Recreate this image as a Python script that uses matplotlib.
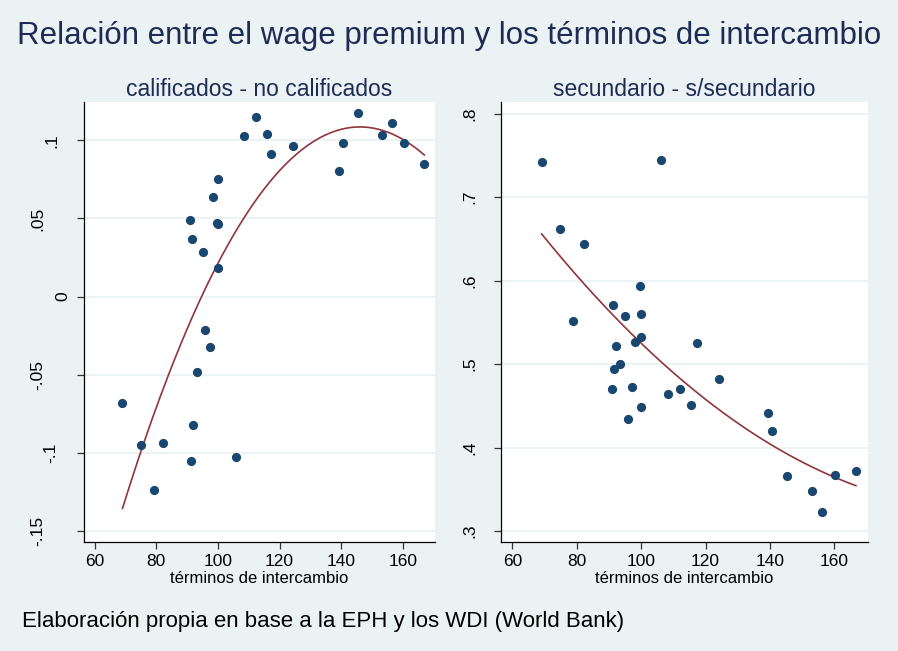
import matplotlib.pyplot as plt
import matplotlib.transforms as mtransforms
import numpy as np

plt.rcParams['font.family'] = ['Liberation Sans', 'DejaVu Sans']

# términos de intercambio vs wage premium (calificados - no calificados)
x_cal = [108.3, 112.5, 115.9, 117.3, 124.3, 100.0, 98.3, 90.8, 100.0, 99.8,
         91.6, 95.2, 100.0, 139.4, 140.6, 145.4, 156.4, 153.3, 160.3, 167.0,
         95.9, 97.3, 93.3, 69.0, 91.9, 75.0, 82.1, 91.3, 106.0, 79.1]
y_cal = [0.1026, 0.1152, 0.1043, 0.0910, 0.0966, 0.0755, 0.0638, 0.0488, 0.0467, 0.0470,
         0.0371, 0.0287, 0.0183, 0.0804, 0.0981, 0.1175, 0.1113, 0.1036, 0.0981, 0.0851,
         -0.0214, -0.0319, -0.0485, -0.0679, -0.0818, -0.0950, -0.0933, -0.1051, -0.1025, -0.1238]

# términos de intercambio vs wage premium (secundario - s/secundario)
x_sec = [69.1, 106.2, 74.9, 82.1, 99.7, 91.3, 95.0, 100.0, 78.9, 98.1,
         100.0, 117.3, 92.1, 93.4, 91.6, 124.2, 91.0, 97.1, 108.4, 112.2,
         115.6, 100.0, 96.0, 139.3, 140.5, 145.3, 160.3, 166.7, 153.1, 156.2]
y_sec = [0.742, 0.7445, 0.6617, 0.644, 0.5938, 0.571, 0.5578, 0.5606, 0.5518, 0.527,
         0.533, 0.525, 0.5215, 0.5002, 0.4939, 0.4819, 0.470, 0.4727, 0.4643, 0.470,
         0.4514, 0.449, 0.434, 0.4411, 0.4199, 0.3663, 0.3671, 0.3723, 0.3483, 0.3224]

xticks = [60, 80, 100, 120, 140, 160]
yticks_cal = [-0.15, -0.1, -0.05, 0, 0.05, 0.1]
ylabels_cal = ['-.15', '-.1', '-.05', '0', '.05', '.1']
yticks_sec = [0.3, 0.4, 0.5, 0.6, 0.7, 0.8]
ylabels_sec = ['.3', '.4', '.5', '.6', '.7', '.8']

bg = '#EAF2F3'
navy = '#1A476F'
maroon = '#90353B'
title_col = '#1E2C55'

# stata puts rotated y labels at a distance that depends on the label width
label_gap = {'0': 21, '.1': 32, '-.1': 33, '.05': 46, '-.05': 46, '-.15': 46}

fig = plt.figure(figsize=(8.98, 6.51), dpi=100, facecolor=bg)

panels = [
    ([0.0935, 0.168, 0.391, 0.676], x_cal, y_cal, yticks_cal, ylabels_cal,
     (-0.1567, 0.1248), 'calificados - no calificados'),
    ([0.558, 0.168, 0.4087, 0.676], x_sec, y_sec, yticks_sec, ylabels_sec,
     (0.2872, 0.8147), 'secundario - s/secundario'),
]

for rect, xs, ys, yt, yl, ylim, title in panels:
    ax = fig.add_axes(rect)
    ax.set_facecolor('white')
    ax.scatter(xs, ys, s=44, color=navy, zorder=3, linewidths=0)
    coef = np.polyfit(xs, ys, 2)
    xf = np.linspace(min(xs), max(xs), 200)
    ax.plot(xf, np.polyval(coef, xf), color=maroon, lw=1.2, zorder=2)
    ax.set_xlim(56.5, 170.5)
    ax.set_ylim(*ylim)
    ax.set_xticks(xticks)
    ax.set_xticklabels([str(t) for t in xticks], fontsize=12.5)
    ax.set_yticks(yt)
    ax.set_yticklabels([])
    trans = mtransforms.blended_transform_factory(ax.transAxes, ax.transData)
    for v, lab in zip(yt, yl):
        gap = label_gap.get(lab, 31)
        t = mtransforms.offset_copy(trans, fig=fig, x=-gap, y=0, units='dots')
        ax.text(0, v, lab, transform=t, rotation=90, ha='center', va='center',
                fontsize=12.5, clip_on=False)
    ax.grid(axis='y', color=bg, lw=1.3, zorder=0)
    for s in ['top', 'right']:
        ax.spines[s].set_visible(False)
    for s in ['left', 'bottom']:
        ax.spines[s].set_color('black')
        ax.spines[s].set_linewidth(0.9)
    ax.tick_params(length=5, width=0.9, color='#333333', pad=3)
    ax.tick_params(axis='x', pad=4)
    ax.set_xlabel('términos de intercambio', fontsize=12, labelpad=1)
    ax.set_title(title, fontsize=16.5, pad=4, color=title_col)

fig.text(0.5, 0.944, 'Relación entre el wage premium y los términos de intercambio',
         ha='center', va='center', fontsize=22.5, color=title_col)
fig.text(0.024, 0.045, 'Elaboración propia en base a la EPH y los WDI (World Bank)',
         ha='left', va='center', fontsize=16, color='black')

fig.savefig('out.png', dpi=100, facecolor=bg)
